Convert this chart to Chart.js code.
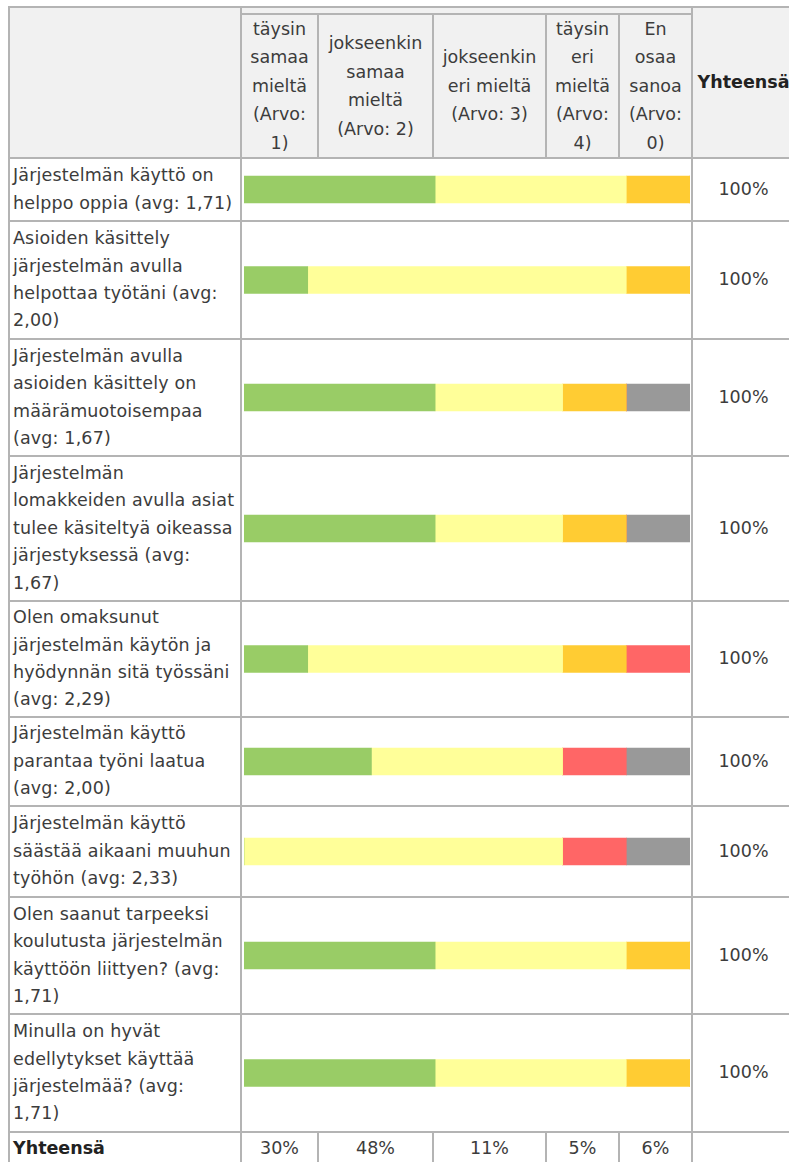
<!DOCTYPE html>
<html>
<head>
<meta charset="utf-8">
<script src="https://cdn.jsdelivr.net/npm/chart.js@4.4.1/dist/chart.umd.min.js"></script>
<style>
  html, body { margin: 0; padding: 0; background: #fff; overflow: hidden; width: 789px; height: 1162px; }
  #sheet { position: relative; width: 789px; height: 1162px; overflow: hidden;
           font-family: Verdana, "DejaVu Sans", sans-serif; font-size: 17.5px; color: #3c3c3c; }
  .cell { position: absolute; box-sizing: border-box; display: flex; align-items: center;
          line-height: 27.4px; white-space: pre; }
  .cell.head { background: #f1f1f1; justify-content: center; text-align: center; line-height: 28.5px; }
  .cell.center { justify-content: center; text-align: center; }
  .cell.label { padding-left: 3px; letter-spacing: 0.15px; }
  .cell.bold { font-weight: bold; color: #222; letter-spacing: 0; }
  .rule { position: absolute; background: #b4b4b4; }
  .plot { position: absolute; }
</style>
</head>
<body>
<div id="sheet"></div>
<script>
// Answer options (column headings)
const categories = [
  'täysin\nsamaa\nmieltä\n(Arvo:\n1)',
  'jokseenkin\nsamaa\nmieltä\n(Arvo: 2)',
  'jokseenkin\neri mieltä\n(Arvo: 3)',
  'täysin\neri\nmieltä\n(Arvo:\n4)',
  'En\nosaa\nsanoa\n(Arvo:\n0)'
];

// Statements (row headings)
const questions = [
  'Järjestelmän käyttö on\nhelppo oppia (avg: 1,71)',
  'Asioiden käsittely\njärjestelmän avulla\nhelpottaa työtäni (avg:\n2,00)',
  'Järjestelmän avulla\nasioiden käsittely on\nmäärämuotoisempaa\n(avg: 1,67)',
  'Järjestelmän\nlomakkeiden avulla asiat\ntulee käsiteltyä oikeassa\njärjestyksessä (avg:\n1,67)',
  'Olen omaksunut\njärjestelmän käytön ja\nhyödynnän sitä työssäni\n(avg: 2,29)',
  'Järjestelmän käyttö\nparantaa työni laatua\n(avg: 2,00)',
  'Järjestelmän käyttö\nsäästää aikaani muuhun\ntyöhön (avg: 2,33)',
  'Olen saanut tarpeeksi\nkoulutusta järjestelmän\nkäyttöön liittyen? (avg:\n1,71)',
  'Minulla on hyvät\nedellytykset käyttää\njärjestelmää? (avg:\n1,71)'
];

// Number of answers per option for each statement (7 respondents)
const respondents = 7;
const fullyAgree       = [3, 1, 3, 3, 1, 2, 0, 3, 3];
const somewhatAgree    = [3, 5, 2, 2, 4, 3, 5, 3, 3];
const somewhatDisagree = [1, 1, 1, 1, 1, 0, 0, 1, 1];
const fullyDisagree    = [0, 0, 0, 0, 1, 1, 1, 0, 0];
const cannotSay        = [0, 0, 1, 1, 0, 1, 1, 0, 0];

const totalLabel = 'Yhteensä';

const series = [fullyAgree, somewhatAgree, somewhatDisagree, fullyDisagree, cannotSay];
const seriesColors = ['#99cc66', '#ffff99', '#ffcc33', '#ff6666', '#999999'];

// ---- table geometry (grid line centres) ----
const colX = [9, 241, 318, 433, 546, 619, 692, 795];
const headTop = 7, groupBottom = 14;
const rowY = [158, 221, 339, 456, 601, 717, 806, 897, 1014, 1132];
const lastBottom = 1166;
const LW = 2;

const sheet = document.getElementById('sheet');

function rule(x, y, w, h) {
  const d = document.createElement('div');
  d.className = 'rule';
  Object.assign(d.style, { left: x + 'px', top: y + 'px', width: w + 'px', height: h + 'px' });
  sheet.appendChild(d);
}
function cell(x0, y0, x1, y1, text, cls) {
  const d = document.createElement('div');
  d.className = 'cell ' + (cls || '');
  Object.assign(d.style, {
    left: (x0 + LW / 2) + 'px', top: (y0 + LW / 2) + 'px',
    width: (x1 - x0 - LW) + 'px', height: (y1 - y0 - LW) + 'px'
  });
  d.textContent = text;
  sheet.appendChild(d);
  return d;
}

// header cells
cell(colX[0], headTop, colX[1], rowY[0], '', 'head');
cell(colX[1], headTop, colX[6], groupBottom, '', 'head');
categories.forEach((c, i) => cell(colX[i + 1], groupBottom, colX[i + 2], rowY[0], c, 'head'));
cell(colX[6], headTop, colX[7], rowY[0], totalLabel, 'head bold');

// statement rows
questions.forEach((q, i) => {
  const y0 = rowY[i], y1 = rowY[i + 1];
  cell(colX[0], y0, colX[1], y1, q, 'label');
  const sum = series.reduce((s, arr) => s + arr[i], 0);
  cell(colX[6], y0, colX[7], y1, Math.round(sum / respondents * 100) + '%', 'center');

  const box = document.createElement('div');
  box.className = 'plot';
  Object.assign(box.style, {
    left: (colX[1] + LW / 2) + 'px', top: (y0 + LW / 2) + 'px',
    width: (colX[6] - colX[1] - LW) + 'px', height: (y1 - y0 - LW) + 'px'
  });
  const cv = document.createElement('canvas');
  box.appendChild(cv);
  sheet.appendChild(box);

  new Chart(cv, {
    type: 'bar',
    data: {
      labels: [q],
      datasets: series.map((arr, k) => ({
        label: categories[k].replace(/\n/g, ' '),
        data: [arr[i]],
        backgroundColor: seriesColors[k],
        borderWidth: 0,
        barThickness: 27
      }))
    },
    options: {
      indexAxis: 'y',
      responsive: true,
      maintainAspectRatio: false,
      animation: false,
      layout: { padding: { left: 2, right: 1, top: 0, bottom: 0 } },
      scales: {
        x: { stacked: true, min: 0, max: respondents, display: false },
        y: { stacked: true, display: false }
      },
      plugins: { legend: { display: false }, tooltip: { enabled: false } }
    }
  });
});

// totals row
const grand = respondents * questions.length;
cell(colX[0], rowY[9], colX[1], lastBottom, totalLabel, 'label bold');
series.forEach((arr, k) => {
  const s = arr.reduce((a, b) => a + b, 0);
  cell(colX[k + 1], rowY[9], colX[k + 2], lastBottom, Math.round(s / grand * 100) + '%', 'center');
});
cell(colX[6], rowY[9], colX[7], lastBottom, '', 'center');

// grid lines
rule(colX[0] - 1, headTop - 1, 789, LW);                 // top edge
rule(colX[1] - 1, groupBottom - 1, colX[6] - colX[1], LW); // under group header
rowY.forEach(y => rule(colX[0] - 1, y - 1, 789, LW));     // row separators
[0, 1, 6].forEach(k => rule(colX[k] - 1, headTop - 1, LW, lastBottom));
[2, 3, 4, 5].forEach(k => {
  rule(colX[k] - 1, groupBottom - 1, LW, rowY[0] - groupBottom + 1);
  rule(colX[k] - 1, rowY[9] - 1, LW, lastBottom - rowY[9] + 2);
});
</script>
</body>
</html>
